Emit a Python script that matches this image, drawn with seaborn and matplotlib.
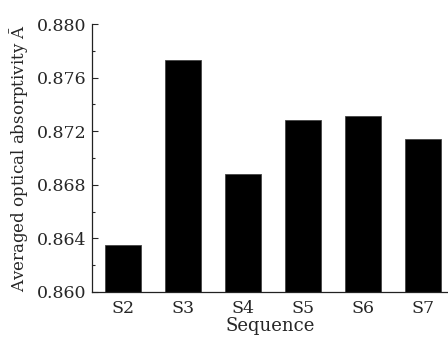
import matplotlib
matplotlib.use("Agg")
import matplotlib.pyplot as plt
from matplotlib.ticker import MultipleLocator
import seaborn as sns
import pandas as pd

sequences = ["S2", "S3", "S4", "S5", "S6", "S7"]
absorptivity = [0.8635, 0.8773, 0.8688, 0.8728, 0.8731, 0.8714]

sns.set_theme(style="ticks")
plt.rcParams['font.family'] = ['DejaVu Serif']
plt.rcParams['mathtext.fontset'] = 'dejavuserif'

df = pd.DataFrame({"seq": sequences, "A": absorptivity})

fig = plt.figure(figsize=(4.48, 3.39), dpi=100)
ax = fig.add_axes([0.205, 0.139, 0.795, 0.79])

sns.barplot(data=df, x="seq", y="A", color="black", width=0.6,
            edgecolor="#444444", linewidth=0.6, ax=ax)
for p in ax.patches:
    p.set_facecolor("black")

ax.set_ylim(0.860, 0.880)
ax.set_xlim(-0.52, 5.42)
ax.yaxis.set_major_locator(MultipleLocator(0.004))
ax.yaxis.set_minor_locator(MultipleLocator(0.002))
ax.set_yticklabels([f"{v:.3f}" for v in ax.get_yticks()])

ax.tick_params(axis='y', which='major', direction='in', length=4, width=0.8, labelsize=12.5, pad=4)
ax.tick_params(axis='y', which='minor', direction='in', length=2, width=0.8)
ax.tick_params(axis='x', length=0, labelsize=12.5, pad=6)

for s in ['top', 'right']:
    ax.spines[s].set_visible(False)
for s in ['left', 'bottom']:
    ax.spines[s].set_linewidth(0.9)
    ax.spines[s].set_color('#222222')

ax.set_xlabel("Sequence", fontsize=13, labelpad=0)
ax.set_ylabel(r"Averaged optical absorptivity $\bar{\mathrm{A}}$", fontsize=12, labelpad=4)

fig.savefig("out.png", dpi=100, facecolor="white")
